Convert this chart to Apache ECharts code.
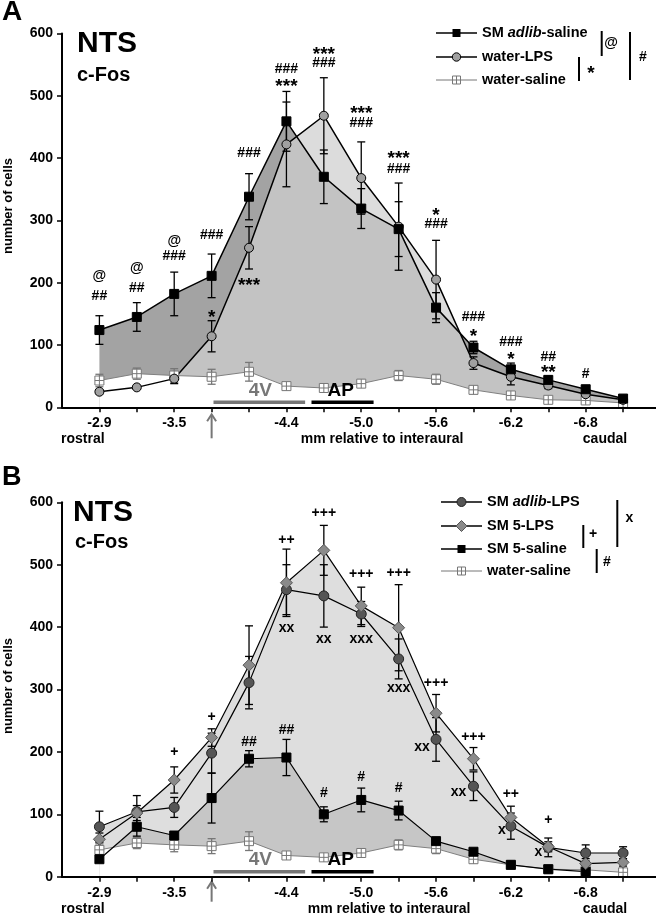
<!DOCTYPE html>
<html><head><meta charset="utf-8">
<script src="https://cdn.jsdelivr.net/npm/echarts@6/dist/echarts.min.js"></script>
<style>html,body{margin:0;padding:0;background:#fff}#c{width:656px;height:917px}</style>
</head><body><div id="c"></div>
<script>
// ---------- data ----------
const positions = ['-2.9','-3.2','-3.5','-3.8','-4.1','-4.4','-4.7','-5.0','-5.3','-5.6','-5.9','-6.2','-6.5','-6.8','-7.1'];
const tickIdx = [0,1,2,3,4,5,6,7,8,9,10,11,12,13,14];
const labelIdx = [0,2,5,7,9,11,13];

// Panel A
const aAdlibSaline    = [124,145,182,211,338,459,370,319,286,160,96,61,44,29,14];
const aAdlibSalineSem = [23,23,35,35,37,48,43,32,44,24,10,10,6,5,3];
const aWaterLps       = [25,32,46,114,256,422,468,368,290,205,71,49,35,21,12];
const aWaterLpsSem    = [3,3,8,25,34,68,61,58,70,63,10,13,5,4,3];
const waterSaline     = [43,54,51,49,57,34,31,38,51,45,28,19,12,11,7];
const waterSalineSem  = [10,9,11,12,15,3,3,3,8,8,6,3,2,2,2];

// Panel B
const bAdlibLps    = [80,104,111,198,311,460,450,421,349,220,145,81,47,38,38];
const bAdlibLpsSem = [25,26,16,32,42,40,50,20,32,35,23,21,15,13,10];
const b5Lps        = [60,102,155,223,339,471,523,434,399,262,189,95,48,21,23];
const b5LpsSem     = [10,12,21,14,63,54,40,30,69,30,18,18,8,8,6];
const b5Saline     = [28,80,66,126,189,191,100,123,106,57,40,19,12,8];
const b5SalineSem  = [4,15,5,40,13,29,12,19,15,4,4,3,2,2];

// significance marks: [index, value, text, dx]
const annotA = [
 [0,210,'@'],[0,179,'##'],
 [1,223,'@'],[1,191,'##'],
 [2,266,'@'],[2,242,'###'],
 [3,276,'###'],[3,151,'*'],
 [4,408,'###'],[4,203,'***'],
 [5,543,'###'],[5,522,'***'],
 [6,573,'***'],[6,552,'###'],
 [7,478,'***'],[7,456,'###'],
 [8,406,'***'],[8,383,'###'],
 [9,315,'*'],[9,294,'###'],
 [10,145,'###'],[10,120,'*'],
 [11,104,'###'],[11,84,'*'],
 [12,81,'##'],[12,63,'**'],
 [13,53,'#']
];
const annotB = [
 [2,199,'+'],[3,255,'+'],
 [4,216,'##'],[5,235,'##'],
 [5,540,'++'],[5,398,'xx'],
 [6,582,'+++'],[6,380,'xx'],[6,134,'#'],
 [7,485,'+++'],[7,380,'xxx'],[7,160,'#'],
 [8,487,'+++'],[8,302,'xxx'],[8,142,'#'],
 [9,310,'+++'],[9,208,'xx',-14],
 [10,224,'+++'],[10,136,'xx',-15],
 [11,132,'++'],[11,75,'x',-9],
 [12,91,'+'],[12,40,'x',-10]
];
// anatomical ranges along the axis (index units)
const regions = [
 {name:'4V', from:3.05, to:5.5, at:4.3, color:'#777'},
 {name:'AP', from:5.67, to:7.33, at:6.45, color:'#000'}
];
const arrowAt = 3;

// ---------- helpers ----------
const FF = '"Liberation Sans", Arial, sans-serif';
const toPts = arr => arr.map((v,i)=>[i,v]);
function envelope(a, b, fn){
  const pts=[]; const n=Math.min(a.length,b.length);
  for(let i=0;i<n;i++){
    pts.push([i, fn(a[i],b[i])]);
    if(i<n-1){
      const d0=a[i]-b[i], d1=a[i+1]-b[i+1];
      if(d0*d1<0){ const t=d0/(d0-d1); pts.push([i+t, a[i]+t*(a[i+1]-a[i])]); }
    }
  }
  return pts;
}
function area(g, pts, color){
  return {type:'line', xAxisIndex:g, yAxisIndex:g, data:pts, symbol:'none', z:1, silent:true,
    lineStyle:{width:0, opacity:0}, areaStyle:{color, opacity:1}, animation:false};
}
function err(g, vals, sems, color){
  return {type:'custom', xAxisIndex:g, yAxisIndex:g, z:2, silent:true, animation:false,
    data: vals.map((v,i)=>[i,v,sems[i]]), encode:{x:0,y:1},
    renderItem(params, api){
      const x=api.value(0), v=api.value(1), s=api.value(2);
      const t=api.coord([x,v+s]), b=api.coord([x,v-s]); const w=4;
      const style={stroke:color, lineWidth:1.3};
      return {type:'group', children:[
        {type:'line', shape:{x1:t[0],y1:t[1],x2:b[0],y2:b[1]}, style},
        {type:'line', shape:{x1:t[0]-w,y1:t[1],x2:t[0]+w,y2:t[1]}, style},
        {type:'line', shape:{x1:b[0]-w,y1:b[1],x2:b[0]+w,y2:b[1]}, style}
      ]};
    }};
}
const SYM_BOX = 'path://M0,0L10,0L10,10L0,10Z M5,0L5,10 M0,5L10,5';
function line(g, vals, symbol, size, fill, border, lc, lw){
  return {type:'line', xAxisIndex:g, yAxisIndex:g, data:toPts(vals), z:3, animation:false,
    symbol, symbolSize:size, showAllSymbol:true,
    itemStyle:{color:fill, borderColor:border, borderWidth:1, opacity:1},
    lineStyle:{color:lc, width:lw}};
}
function annot(g, list){
  return {type:'custom', xAxisIndex:g, yAxisIndex:g, z:4, silent:true, animation:false,
    data:list.map(a=>[a[0],a[1]]), encode:{x:0,y:1},
    renderItem(params, api){
      const a=list[params.dataIndex]; const p=api.coord([a[0],a[1]]);
      const star = a[2].indexOf('*')>=0;
      return {type:'text', x:p[0]+(a[3]||0), y:p[1]+(star?4.5:0),
        style:{text:a[2], fontSize:star?19:14, fontWeight:'bold', fontFamily:FF, fill:'#000', align:'center', verticalAlign:'middle'}};
    }};
}
function regionMarks(g, arrowTop, arrowBot){
  return {type:'custom', xAxisIndex:g, yAxisIndex:g, z:4, silent:true, animation:false,
    data:[[0,0]], encode:{x:0,y:1},
    renderItem(params, api){
      const ch=[];
      regions.forEach(r=>{
        const a=api.coord([r.from,0]), b=api.coord([r.to,0]), c=api.coord([r.at,0]);
        ch.push({type:'line', shape:{x1:a[0],y1:a[1]-5,x2:b[0],y2:b[1]-5}, style:{stroke:r.color, lineWidth:3.5}});
        ch.push({type:'text', x:c[0], y:c[1]-17, style:{text:r.name, fontSize:19, fontWeight:'bold', fontFamily:FF, fill:r.color, align:'center', verticalAlign:'middle'}});
      });
      const p=api.coord([arrowAt,0]);
      ch.push({type:'line', shape:{x1:p[0],y1:p[1]+arrowTop+1,x2:p[0],y2:p[1]+arrowBot}, style:{stroke:'#777', lineWidth:2}});
      ch.push({type:'polyline', shape:{points:[[p[0]-4.5,p[1]+arrowTop+7],[p[0],p[1]+arrowTop],[p[0]+4.5,p[1]+arrowTop+7]]}, style:{stroke:'#777', lineWidth:2, fill:null}});
      return {type:'group', children:ch};
    }};
}
function xAx(g){
  return {type:'value', gridIndex:g, min:-1, max:14.88,
    axisLine:{show:true, onZero:false, lineStyle:{color:'#000', width:2}},
    axisTick:{show:true, customValues:tickIdx, length:5, lineStyle:{color:'#000', width:1.5}},
    axisLabel:{customValues:labelIdx, formatter:v=>positions[Math.round(v)], fontSize:14, fontWeight:'bold', fontFamily:FF, color:'#000', margin:9},
    splitLine:{show:false}, z:5};
}
function yAx(g){
  return {type:'value', gridIndex:g, min:0, max:600, interval:100,
    axisLine:{show:true, onZero:false, lineStyle:{color:'#000', width:2}},
    axisTick:{show:true, length:5, lineStyle:{color:'#000', width:1.5}},
    axisLabel:{fontSize:14, fontWeight:'bold', fontFamily:FF, color:'#000', margin:9},
    splitLine:{show:false}};
}

// ---------- graphic (titles, legends) ----------
const G=[];
function txt(x,y,text,size,opts){
  G.push(Object.assign({type:'text', x, y, silent:true,
    style:Object.assign({text, fontSize:size, fontWeight:'bold', fontFamily:FF, fill:'#000', align:'left', verticalAlign:'middle'}, (opts&&opts.style)||{})},
    opts&&opts.el||{}));
}
function vbar(x,y1,y2){ G.push({type:'line', silent:true, shape:{x1:x,y1,x2:x,y2}, style:{stroke:'#000', lineWidth:2}}); }
function legendRow(x1,x2,y,kind,rich){
  const cx=(x1+x2)/2;
  const gray = kind==='box';
  G.push({type:'line', silent:true, shape:{x1,y1:y,x2,y2:y}, style:{stroke:gray?'#777':'#000', lineWidth:gray?1:1.5}});
  if(kind==='sq') G.push({type:'rect', silent:true, shape:{x:cx-4,y:y-4,width:8,height:8}, style:{fill:'#000'}});
  if(kind==='circLight') G.push({type:'circle', silent:true, shape:{cx,cy:y,r:4.2}, style:{fill:'#a0a0a0', stroke:'#000', lineWidth:1}});
  if(kind==='circDark') G.push({type:'circle', silent:true, shape:{cx,cy:y,r:4.5}, style:{fill:'#555', stroke:'#222', lineWidth:1}});
  if(kind==='dia') G.push({type:'polygon', silent:true, shape:{points:[[cx,y-5.5],[cx+5.5,y],[cx,y+5.5],[cx-5.5,y]]}, style:{fill:'#8a8a8a', stroke:'#555', lineWidth:1}});
  if(kind==='box'){
    G.push({type:'rect', silent:true, shape:{x:cx-4,y:y-4,width:8,height:8}, style:{fill:'#fff', stroke:'#777', lineWidth:1}});
    G.push({type:'line', silent:true, shape:{x1:cx,y1:y-4,x2:cx,y2:y+4}, style:{stroke:'#777', lineWidth:1}});
    G.push({type:'line', silent:true, shape:{x1:cx-4,y1:y,x2:cx+4,y2:y}, style:{stroke:'#777', lineWidth:1}});
  }
  G.push({type:'text', silent:true, x:x2+5, y, style:{text:rich, fontFamily:FF, fontSize:14.5, fontWeight:'bold', fill:'#000', verticalAlign:'middle', align:'left',
    rich:{b:{fontFamily:FF, fontSize:14.5, fontWeight:'bold', fill:'#000'}, i:{fontFamily:FF, fontSize:14.5, fontWeight:'bold', fontStyle:'italic', fill:'#000'}}}});
}
// Panel letters and titles
txt(2,12,'A',28); txt(2,478,'B',27);
txt(77,44,'NTS',30); txt(77,75,'c-Fos',20);
txt(73,513,'NTS',30); txt(75,542,'c-Fos',20);
// y-axis names
G.push({type:'text', silent:true, x:8, y:206, rotation:Math.PI/2, style:{text:'number of cells', fontSize:13, fontWeight:'bold', fontFamily:FF, fill:'#000', align:'center', verticalAlign:'middle'}});
G.push({type:'text', silent:true, x:8, y:686, rotation:Math.PI/2, style:{text:'number of cells', fontSize:13, fontWeight:'bold', fontFamily:FF, fill:'#000', align:'center', verticalAlign:'middle'}});
// x extra labels
[[439],[909]].forEach((r,k)=>{
  const y=r[0];
  txt(61,y,'rostral',14);
  txt(k===0?382:389,y,'mm relative to interaural',14,{style:{align:'center'}});
  txt(605,y,'caudal',14,{style:{align:'center'}});
});
// Legend A
legendRow(436,477,33,'sq','{b|SM }{i|adlib}{b|-saline}');
legendRow(436,477,57,'circLight','{b|water-LPS}');
legendRow(436,477,80,'box','{b|water-saline}');
vbar(601.7,31,56); txt(611,43,'@',14,{style:{align:'center'}});
vbar(579,57,81); txt(591,73.5,'*',19,{style:{align:'center'}});
vbar(630,32,80); txt(643,57,'#',14,{style:{align:'center'}});
// Legend B
legendRow(441,482,502,'circDark','{b|SM }{i|adlib}{b|-LPS}');
legendRow(441,482,526,'dia','{b|SM 5-LPS}');
legendRow(441,482,549,'sq','{b|SM 5-saline}');
legendRow(441,482,571,'box','{b|water-saline}');
vbar(617.3,500,547); txt(629.5,518,'x',14,{style:{align:'center'}});
vbar(583.3,525,548); txt(593,534,'+',14,{style:{align:'center'}});
vbar(596.7,549,573); txt(607,562,'#',14,{style:{align:'center'}});

// ---------- series ----------
const series = [
  // Panel A fills
  area(0, toPts(aWaterLps), '#dcdcdc'),
  area(0, toPts(aAdlibSaline), '#a3a3a3'),
  area(0, envelope(aAdlibSaline, aWaterLps, Math.min), '#c3c3c3'),
  area(0, toPts(waterSaline), '#ffffff'),
  // Panel B fills
  area(1, envelope(bAdlibLps, b5Lps, Math.max), '#dedede'),
  area(1, toPts(b5Saline), '#c6c6c6'),
  area(1, toPts(waterSaline), '#ffffff'),
  // error bars
  err(0, waterSaline, waterSalineSem, '#777'),
  err(0, aWaterLps, aWaterLpsSem, '#000'),
  err(0, aAdlibSaline, aAdlibSalineSem, '#000'),
  err(1, waterSaline, waterSalineSem, '#777'),
  err(1, b5Saline, b5SalineSem, '#000'),
  err(1, bAdlibLps, bAdlibLpsSem, '#000'),
  err(1, b5Lps, b5LpsSem, '#000'),
  // lines
  line(0, waterSaline, SYM_BOX, 9, '#fff', '#777', '#808080', 1),
  line(0, aWaterLps, 'circle', 9, '#a0a0a0', '#000', '#000', 1.5),
  line(0, aAdlibSaline, 'rect', 9, '#000', '#000', '#000', 1.5),
  line(1, waterSaline, SYM_BOX, 9, '#fff', '#777', '#808080', 1),
  line(1, b5Saline, 'rect', 9, '#000', '#000', '#000', 1.2),
  line(1, bAdlibLps, 'circle', 10, '#555', '#222', '#000', 1.2),
  line(1, b5Lps, 'diamond', 12, '#8a8a8a', '#555', '#000', 1.2),
  // annotations
  annot(0, annotA), annot(1, annotB),
  regionMarks(0, 7, 31), regionMarks(1, 5, 25)
];

const chart = echarts.init(document.getElementById('c'), null, {renderer:'canvas'});
chart.setOption({
  animation:false,
  backgroundColor:'#fff',
  grid:[{left:62, top:33.5, right:0, height:373.8}, {left:62, top:502.3, right:0, height:374.4}],
  xAxis:[xAx(0), xAx(1)],
  yAxis:[yAx(0), yAx(1)],
  series,
  graphic:G
});
</script>
</body></html>
